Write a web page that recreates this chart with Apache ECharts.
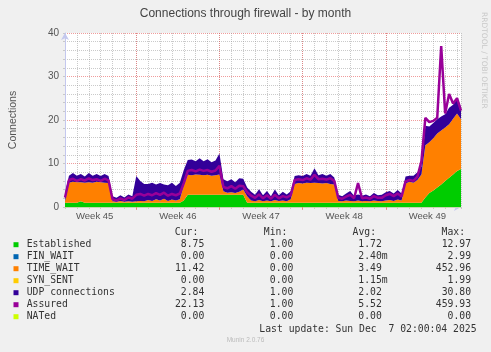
<!DOCTYPE html>
<html lang="en">
<head>
<meta charset="UTF-8">
<title>Connections through firewall - by month</title>
<style>
    html, body { margin: 0; padding: 0; background: #f0f0f0; }
    #main { width: 491px; height: 352px; }
</style>
</head>
<body>
<div id="main"></div>
<script src="https://cdn.jsdelivr.net/npm/echarts@6/dist/echarts.min.js"></script>
<script>
    // x = hours since Monday of week 45, one sample every 8 hours
    var times = [];
    for (var i = 0; i <= 100; i++) times.push(24 + 8 * i);

    var weekStarts = [168, 336, 504, 672];
    var weekMid = [84, 252, 420, 588, 756];
    var weekLabels = ['Week 45', 'Week 46', 'Week 47', 'Week 48', 'Week 49'];

    var established = [
        1, 1, 1, 1, 1.3, 1, 1, 1, 1, 1, 1, 1, 1, 1, 1, 1, 1, 1,
        1, 1, 1, 1, 1, 1, 1, 1, 1, 1, 1, 1,
        1.5, 2.8, 2.8, 2.8, 2.8, 2.8, 2.8, 2.8, 2.8, 2.8, 2.8, 2.8, 2.8, 2.8, 2.8, 2.8,
        1, 1, 1, 1, 1, 1, 1, 1, 1, 1, 1, 1, 1, 1, 1, 1, 1, 1, 1, 1, 1, 1, 1,
        1, 1, 1, 1, 1, 1, 1, 1, 1, 1, 1, 1, 1, 1, 1, 1, 1, 1, 1, 1, 1, 1,
        2.2, 3.2, 3.8, 4.5, 5.2, 6.0, 6.7, 7.5, 8.3, 8.75
    ];
    var finWait = [
        0, 0, 0, 0, 0, 0, 0, 0, 0, 0, 0, 0, 0, 0, 0, 0, 0, 0, 0, 0,
        0, 0, 0, 0, 0, 0, 0, 0, 0, 0, 0, 0, 0, 0, 0, 0, 0, 0, 0, 0,
        0, 0, 0, 0, 0, 0, 0, 0, 0, 0, 0, 0, 0, 0, 0, 0, 0, 0, 0, 0,
        0, 0, 0, 0, 0, 0, 0, 0, 0, 0, 0, 0, 0, 0, 0, 0, 0, 0, 0, 0,
        0, 0, 0, 0, 0, 0, 0, 0, 0, 0, 0, 0, 0, 0, 0, 0, 0, 0, 0, 0, 0
    ];
    var timeWait = [
        0.3,
        4.6, 4.8, 4.7, 4.4, 4.6, 4.7, 4.6, 4.8, 4.7, 4.6, 4.5,
        0.3, 0.2, 0.4, 0.2, 0.3, 0.2,
        0.3, 0.4, 0.3, 0.6, 0.4, 0.8, 0.5, 0.9, 0.4, 0.7, 0.5, 0.8,
        3.5, 4.6, 4.5, 4.7, 4.6, 4.5, 4.6, 4.4, 4.5, 4.7,
        0.8, 0.5, 0.6, 0.4, 0.7, 1.2, 1.5, 0.5, 0.3, 0.6, 0.3, 0.5, 0.3, 0.6, 0.4, 0.5, 0.3, 0.8,
        4.3, 4.5, 4.4, 4.6, 4.5, 4.6, 4.5, 4.4, 4.5, 4.3, 4.2,
        0.4, 0.3, 0.5, 0.4, 0.3, 0.5, 0.3, 0.4, 0.3, 0.5, 0.4, 0.3, 0.5, 0.6, 0.4, 0.7, 0.5,
        4.4, 4.8, 4.6, 5.2, 6.5,
        12.0, 11.7, 12.0, 12.4, 12.4, 12.3, 12.3, 12.8, 13.2, 11.42
    ];
    var synSent = [
        0, 0, 0, 0, 0, 0, 0, 0, 0, 0, 0, 0, 0, 0, 0, 0, 0, 0, 0, 0,
        0, 0, 0, 0, 0, 0, 0, 0, 0, 0, 0, 0, 0, 0, 0, 0, 0, 0, 0, 0,
        0, 0, 0, 0, 0, 0, 0, 0, 0, 0, 0, 0, 0, 0, 0, 0, 0, 0, 0, 0,
        0, 0, 0, 0, 0, 0, 0, 0, 0, 0, 0, 0, 0, 0, 0, 0, 0, 0, 0, 0,
        0, 0, 0, 0, 0, 0, 0, 0, 0, 0, 0, 0, 0, 0, 0, 0, 0, 0, 0, 0, 0
    ];
    var udp = [
        1.8,
        1.6, 2.0, 1.5, 1.9, 1.4, 2.1, 1.6, 1.8, 1.4, 2.0, 1.6,
        1.2, 0.9, 1.3, 1.0, 1.6, 1.3,
        5.8, 4.6, 4.0, 3.7, 4.2, 3.4, 4.0, 3.3, 3.6, 3.9, 3.3, 3.8,
        3.5, 3.4, 3.6, 3.0, 3.8, 3.2, 3.6, 3.1, 3.4, 4.8,
        2.8, 2.6, 3.0, 2.5, 3.1, 2.5, 2.0, 2.0, 1.5, 2.5, 1.4, 2.2, 1.2, 2.4, 1.3, 2.0, 1.6, 1.8,
        1.8, 1.8, 1.7, 2.0, 1.7, 3.3, 1.8, 2.2, 1.7, 2.3, 1.6,
        1.4, 1.2, 1.6, 2.3, 1.3, 1.4, 1.3, 1.5, 1.2, 1.7, 1.3, 1.5, 1.9, 2.1, 1.7, 2.2, 1.6,
        1.6, 1.4, 1.6, 1.8, 1.8,
        4.5, 3.6, 3.5, 3.3, 3.2, 3.0, 3.8, 3.2, 3.3, 2.84
    ];
    var assured = [
        2.2,
        6.2, 6.5, 6.0, 6.4, 6.1, 6.6, 6.2, 6.4, 6.0, 6.5, 6.1,
        1.8, 1.5, 2.0, 1.6, 2.2, 1.9,
        2.8, 3.0, 2.6, 3.0, 2.7, 3.2, 2.8, 3.3, 2.6, 3.0, 2.7, 3.1,
        5.5, 8.3, 8.5, 8.2, 8.6, 8.3, 8.5, 8.1, 8.4, 9.5,
        4.6, 4.3, 4.8, 4.2, 4.9, 4.8, 3.4, 2.6, 2.1, 2.9, 2.0, 2.7, 1.9, 2.8, 2.0, 2.5, 2.2, 2.7,
        6.2, 6.4, 6.2, 6.6, 6.3, 7.4, 6.4, 6.5, 6.3, 6.6, 6.0,
        2.1, 1.9, 2.4, 2.8, 2.0, 5.5, 2.0, 2.2, 1.9, 2.5, 2.1, 2.1, 2.7, 3.0, 2.5, 3.1, 2.4,
        5.9, 6.2, 6.0, 7.0, 10.5,
        20.5, 19.5, 19.8, 20.5, 37.0, 21.5, 26.0, 23.8, 25.0, 22.13
    ];
    var nated = [
        0, 0, 0, 0, 0, 0, 0, 0, 0, 0, 0, 0, 0, 0, 0, 0, 0, 0, 0, 0,
        0, 0, 0, 0, 0, 0, 0, 0, 0, 0, 0, 0, 0, 0, 0, 0, 0, 0, 0, 0,
        0, 0, 0, 0, 0, 0, 0, 0, 0, 0, 0, 0, 0, 0, 0, 0, 0, 0, 0, 0,
        0, 0, 0, 0, 0, 0, 0, 0, 0, 0, 0, 0, 0, 0, 0, 0, 0, 0, 0, 0,
        0, 0, 0, 0, 0, 0, 0, 0, 0, 0, 0, 0, 0, 0, 0, 0, 0, 0, 0, 0, 0
    ];

    // legend table (Cur / Min / Avg / Max)
    var names = ['Established', 'FIN_WAIT', 'TIME_WAIT', 'SYN_SENT', 'UDP connections', 'Assured', 'NATed'];
    var colors = ['#00cc00', '#0066b3', '#ff8000', '#ffcc00', '#330099', '#990099', '#ccff00'];
    var curVals = ['8.75', '0.00', '11.42', '0.00', '2.84', '22.13', '0.00'];
    var minVals = ['1.00', '0.00', '0.00', '0.00', '1.00', '1.00', '0.00'];
    var avgVals = ['1.72 ', '2.40m', '3.49 ', '1.15m', '2.02 ', '5.52 ', '0.00 '];
    var maxVals = ['12.97', '2.99', '452.96', '1.99', '30.80', '459.93', '0.00'];

    var axisColor = '#c4c8ee';
    var grayDot = 'rgba(150,150,150,0.5)';
    var redDot = 'rgba(230,90,90,0.6)';
    var mono = '9.75px "DejaVu Sans Mono"';
    var textColor = '#333';

    function area(name, arr, color) {
        return {
            name: name, type: 'line', stack: 'conn', data: arr,
            symbol: 'none', lineStyle: { width: 0 }, color: color,
            areaStyle: { color: color, opacity: 1 }
        };
    }

    var graphics = [];
    var colX = [198.3, 287.3, 376, 465];
    ['Cur:', 'Min:', 'Avg:', 'Max:'].forEach(function (h, k) {
        graphics.push({ type: 'text', x: colX[k], y: 232.7,
            style: { text: h, font: mono, fill: textColor, align: 'right', verticalAlign: 'middle' } });
    });
    names.forEach(function (n, k) {
        var y = 244.7 + 12 * k;
        graphics.push({ type: 'rect', shape: { x: 13.5, y: y - 2.5, width: 5, height: 5 }, style: { fill: colors[k] } });
        graphics.push({ type: 'text', x: 26.7, y: y, style: { text: n, font: mono, fill: textColor, verticalAlign: 'middle' } });
        graphics.push({ type: 'text', x: 204.3, y: y, style: { text: curVals[k], font: mono, fill: textColor, align: 'right', verticalAlign: 'middle' } });
        graphics.push({ type: 'text', x: 293.3, y: y, style: { text: minVals[k], font: mono, fill: textColor, align: 'right', verticalAlign: 'middle' } });
        graphics.push({ type: 'text', x: 387.7, y: y, style: { text: avgVals[k], font: mono, fill: textColor, align: 'right', verticalAlign: 'middle' } });
        graphics.push({ type: 'text', x: 471, y: y, style: { text: maxVals[k], font: mono, fill: textColor, align: 'right', verticalAlign: 'middle' } });
    });
    graphics.push({ type: 'text', x: 476.5, y: 329.3,
        style: { text: 'Last update: Sun Dec  7 02:00:04 2025', font: mono, fill: textColor, align: 'right', verticalAlign: 'middle' } });
    graphics.push({ type: 'text', x: 245.5, y: 340,
        style: { text: 'Munin 2.0.76', font: '6.5px "Liberation Sans"', fill: '#bbb', align: 'center', verticalAlign: 'middle' } });
    graphics.push({ type: 'text', x: 484, y: 12, rotation: -Math.PI / 2,
        style: { text: 'RRDTOOL / TOBI OETIKER', font: '7.5px "DejaVu Sans"', fill: '#c8c8c8', verticalAlign: 'middle' } });

    var myChart = echarts.init(document.getElementById('main'));

    var option = {
        animation: false,
        backgroundColor: '#f0f0f0',
        title: {
            text: 'Connections through firewall - by month',
            left: 'center',
            top: 3,
            textStyle: { fontFamily: 'Liberation Sans', fontSize: 12, fontWeight: 'normal', color: '#444' }
        },
        grid: {
            left: 61, right: 30, top: 33, bottom: 145,
            show: true, backgroundColor: '#fff', borderWidth: 0
        },
        xAxis: [
            {
                // samples (every 8 hours), drawn by the series
                type: 'category', data: times, boundaryGap: false, position: 'bottom',
                axisLine: { show: false }, axisTick: { show: false },
                axisLabel: { show: false }, splitLine: { show: false }
            },
            {
                // day grid
                type: 'value', min: 24, max: 824, interval: 24, position: 'bottom',
                axisLine: { lineStyle: { color: axisColor }, symbol: ['none', 'arrow'], symbolSize: [6, 7] },
                axisTick: { length: 2, lineStyle: { color: '#c8c8c8' } },
                axisLabel: { show: false },
                splitLine: { show: true, lineStyle: { color: grayDot, type: 'dotted' } }
            },
            {
                // week grid and labels
                type: 'value', min: 24, max: 824, position: 'bottom',
                axisLine: { show: false },
                axisTick: { show: true, customValues: weekStarts, length: 3, lineStyle: { color: redDot } },
                axisLabel: {
                    customValues: weekMid, margin: 4,
                    color: '#555', fontFamily: 'Liberation Sans', fontSize: 9.5,
                    formatter: function (v) { return weekLabels[weekMid.indexOf(v)] || ''; }
                },
                splitLine: { show: true, lineStyle: { color: redDot, type: 'dotted' } }
            }
        ],
        yAxis: {
            type: 'value', min: 0, max: 40, interval: 10,
            name: 'Connections', nameLocation: 'middle', nameGap: 46,
            nameTextStyle: { color: '#555', fontFamily: 'Liberation Sans', fontSize: 10.5 },
            axisLine: { show: true, lineStyle: { color: axisColor }, symbol: ['none', 'arrow'], symbolSize: [6, 7] },
            axisTick: { show: true, length: 2, lineStyle: { color: '#c8c8c8' } },
            minorTick: { show: true, splitNumber: 5, length: 2, lineStyle: { color: '#c8c8c8' } },
            axisLabel: { color: '#555', fontFamily: 'Liberation Sans', fontSize: 10, margin: 6 },
            splitLine: { show: true, lineStyle: { color: redDot, type: 'dotted' } },
            minorSplitLine: { show: true, lineStyle: { color: grayDot, type: 'dotted' } }
        },
        series: [
            area('Established', established, colors[0]),
            area('FIN_WAIT', finWait, colors[1]),
            area('TIME_WAIT', timeWait, colors[2]),
            area('SYN_SENT', synSent, colors[3]),
            area('UDP connections', udp, colors[4]),
            {
                name: 'Assured', type: 'line', data: assured, symbol: 'none',
                lineStyle: { width: 2.5, color: colors[5] }, color: colors[5]
            },
            {
                name: 'NATed', type: 'line', data: nated, symbol: 'none', z: 1,
                lineStyle: { width: 1, color: colors[6] }, color: colors[6]
            }
        ],
        graphic: { elements: graphics }
    };

    myChart.setOption(option);
</script>
</body>
</html>
